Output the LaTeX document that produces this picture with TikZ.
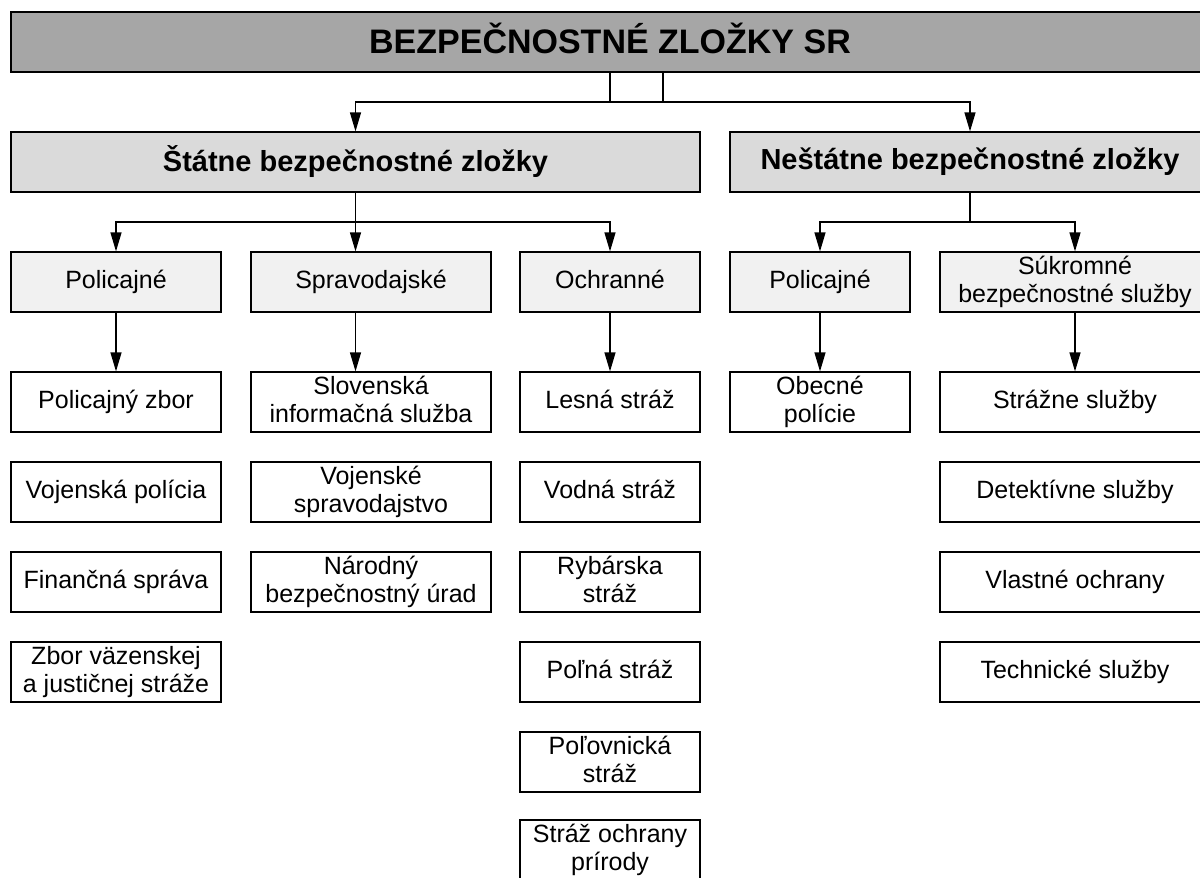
\documentclass[tikz,border=0pt]{standalone}
\usepackage{fontspec}
\setmainfont{Liberation Sans}
\usetikzlibrary{arrows.meta}

\definecolor{headgray}{HTML}{A6A6A6}
\definecolor{groupgray}{HTML}{DADADA}
\definecolor{catgray}{HTML}{F1F1F1}

% strut that centres capitals in a box
\newcommand{\capstrut}{\rule[-0.234em]{0pt}{0.95em}}

\begin{document}
\begin{tikzpicture}[
			x=1pt, y=-1pt,
			box/.style={draw, line width=1.2pt, minimum height=60pt, inner sep=1pt, align=center,
				execute at begin node=\capstrut, execute at end node=\capstrut},
			head/.style={box, fill=headgray, line width=1.6pt, minimum width=1198pt, font=\bfseries\fontsize{34}{38}\selectfont},
			group/.style={box, fill=groupgray, font=\bfseries\fontsize{29}{33}\selectfont},
			cat/.style={box, fill=catgray, font=\fontsize{25}{28}\selectfont},
			item/.style={box, fill=white, font=\fontsize{25}{28}\selectfont},
			arrow/.style={-{Triangle[length=19pt, width=11pt]}, line width=1.2pt},
			line/.style={-, line width=1.2pt}
		]
		\useasboundingbox (0,0) rectangle (1200,878);

		% Head
		\node[head] (top) at (610,42) {BEZPEČNOSTNÉ ZLOŽKY SR};

		% Groups
		\node[group, minimum width=689pt] (st) at (355.5,162) {Štátne bezpečnostné zložky};
		\node[group, minimum width=480pt] (nst) at (970,162) {Neštátne bezpečnostné zložky};
		\draw[arrow] (top.south) -- (610,102) -| (nst.north);
		\draw[arrow] ([xshift=53pt]top.south) -- (663,102) -| (st.north);

		% Categories of the state branch
		\node[cat, minimum width=210pt] (pa) at (116,282) {Policajné};
		\node[cat, minimum width=240pt] (pb) at (371,282) {Spravodajské};
		\node[cat, minimum width=180pt] (pc) at (610,282) {Ochranné};
		\coordinate (js) at (355.5,222);
		\draw[arrow] (st.south) -- (js) -| (pa.north);
		\draw[arrow] (js) -| (pc.north);
		\draw[arrow] (st.south) -- (st.south |- pb.north);

		% Categories of the non-state branch
		\node[cat, minimum width=180pt] (pd) at (820,282) {Policajné};
		\node[cat, minimum width=270pt] (pe) at (1075,282) {Súkromné\\bezpečnostné služby};
		\coordinate (jn) at (970,222);
		\draw[arrow] (nst.south) -- (jn) -| (pd.north);
		\draw[arrow] (jn) -| (pe.north);

		% Police
		\node[item, minimum width=210pt] (a1) at (116,402) {Policajný zbor};
		\node[item, minimum width=210pt] (a2) at (116,492) {Vojenská polícia};
		\node[item, minimum width=210pt] (a3) at (116,582) {Finančná správa};
		\node[item, minimum width=210pt] (a4) at (116,672) {Zbor väzenskej\\a justičnej stráže};
		\draw[arrow] (pa.south) -- (a1.north);

		% Intelligence
		\node[item, minimum width=240pt] (b1) at (371,402) {Slovenská\\informačná služba};
		\node[item, minimum width=240pt] (b2) at (371,492) {Vojenské\\spravodajstvo};
		\node[item, minimum width=240pt] (b3) at (371,582) {Národný\\bezpečnostný úrad};
		\draw[arrow] (pb.south -| st.south) -- (b1.north -| st.south);

		% Protection
		\node[item, minimum width=180pt] (c1) at (610,402) {Lesná stráž};
		\node[item, minimum width=180pt] (c2) at (610,492) {Vodná stráž};
		\node[item, minimum width=180pt] (c3) at (610,582) {Rybárska\\stráž};
		\node[item, minimum width=180pt] (c4) at (610,672) {Poľná stráž};
		\node[item, minimum width=180pt] (c5) at (610,762) {Poľovnická\\stráž};
		\node[item, minimum width=180pt] (c6) at (610,850) {Stráž ochrany\\prírody};
		\draw[arrow] (pc.south) -- (c1.north);

		% Municipal police
		\node[item, minimum width=180pt] (d1) at (820,402) {Obecné\\polície};
		\draw[arrow] (pd.south) -- (d1.north);

		% Private services
		\node[item, minimum width=270pt] (e1) at (1075,402) {Strážne služby};
		\node[item, minimum width=270pt] (e2) at (1075,492) {Detektívne služby};
		\node[item, minimum width=270pt] (e3) at (1075,582) {Vlastné ochrany};
		\node[item, minimum width=270pt] (e4) at (1075,672) {Technické služby};
		\draw[arrow] (pe.south) -- (e1.north);

	\end{tikzpicture}
\end{document}
